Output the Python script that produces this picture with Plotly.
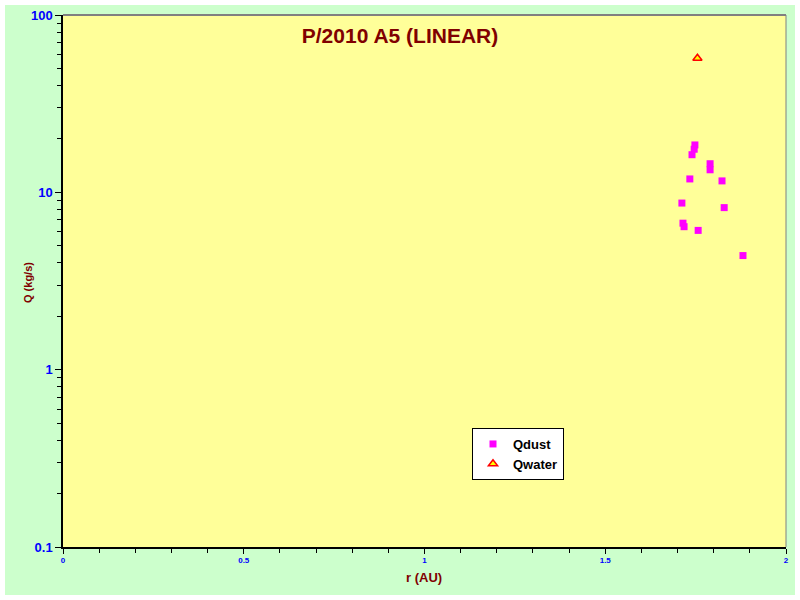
import plotly.graph_objects as go

# Data
dust_r = [1.748, 1.746, 1.740, 1.790, 1.790, 1.734, 1.823, 1.712, 1.829, 1.715, 1.718, 1.757, 1.881]
dust_q = [18.5, 17.5, 16.3, 14.5, 13.4, 11.9, 11.6, 8.7, 8.2, 6.7, 6.4, 6.1, 4.4]
water_r = [1.755]
water_q = [57.0]

title_text = "P/2010 A5 (LINEAR)"
x_title = "r (AU)"
y_title = "Q (kg/s)"

FONT = "Liberation Sans, Arial, sans-serif"
DARKRED = "#800000"
BLUE = "#0000FF"

fig = go.Figure()
fig.add_trace(go.Scatter(
    x=dust_r, y=dust_q, mode="markers", name="Qdust",
    marker=dict(symbol="square", size=7, color="#FF00FF", line=dict(width=0)),
))
fig.add_trace(go.Scatter(
    x=water_r, y=water_q, mode="markers", name="Qwater",
    marker=dict(symbol="triangle-up", size=8, color="#FFFF00",
                line=dict(color="#FF0000", width=1.5)),
))

W, H = 800, 600
l, r, t, b = 63, 14, 15, 53
pw, ph = W - l - r, H - t - b

def px_x(p):
    return (p - l) / pw

def px_y(p):
    return (H - b - p) / ph

fig.add_shape(type="rect", xref="paper", yref="paper",
              x0=px_x(5), x1=px_x(795), y0=px_y(595), y1=px_y(5),
              fillcolor="#CCFFCC", line=dict(width=0), layer="below")
fig.add_shape(type="rect", xref="paper", yref="paper",
              x0=0, x1=1, y0=0, y1=1,
              fillcolor="#FFFF99", line=dict(width=0), layer="below")

fig.update_layout(
    width=W, height=H,
    margin=dict(l=l, r=r, t=t, b=b, autoexpand=False),
    paper_bgcolor="white",
    plot_bgcolor="#FFFF99",
    font=dict(family=FONT),
    title=dict(text=title_text, x=0.5, xref="container", xanchor="center",
               y=1 - 36 / H, yref="container", yanchor="middle",
               font=dict(family=FONT, size=21, color=DARKRED, weight="bold")),
    showlegend=True,
    legend=dict(x=px_x(472), y=px_y(428), xanchor="left", yanchor="top",
                bgcolor="white", bordercolor="black", borderwidth=1,
                font=dict(family=FONT, size=13, color="black", weight="bold"),
                itemwidth=30, tracegroupgap=0),
)

fig.update_xaxes(
    range=[0, 2], dtick=0.5, tick0=0, automargin=False,
    showgrid=False, zeroline=False,
    showline=True, linecolor="black", linewidth=1.5, mirror=False,
    ticks="outside", ticklen=5, tickcolor="black",
    minor=dict(ticks="outside", ticklen=4, dtick=0.1, tickcolor="black"),
    tickfont=dict(family=FONT, size=8, color=BLUE, weight="bold"),
)
fig.update_yaxes(
    type="log", range=[-1, 2], dtick=1, automargin=False,
    showgrid=False, zeroline=False,
    showline=True, linecolor="black", linewidth=1.5,
    ticks="outside", ticklen=6, tickcolor="black",
    minor=dict(ticks="outside", ticklen=4, dtick="D1", tickcolor="black", showgrid=False),
    tickfont=dict(family=FONT, size=13, color=BLUE, weight="bold"),
)

# axis titles
fig.add_annotation(text=x_title, xref="paper", yref="paper",
                   x=px_x(424), y=px_y(577), xanchor="center", yanchor="middle",
                   showarrow=False,
                   font=dict(family=FONT, size=13, color=DARKRED, weight="bold"))
fig.add_annotation(text=y_title, xref="paper", yref="paper",
                   x=px_x(28), y=px_y(283), xanchor="center", yanchor="middle",
                   textangle=-90, showarrow=False,
                   font=dict(family=FONT, size=11, color=DARKRED, weight="bold"))

# gray top/right border of the plot area
fig.add_shape(type="line", xref="paper", yref="paper", x0=0, x1=1, y0=1, y1=1,
              line=dict(color="#808080", width=2))
fig.add_shape(type="line", xref="paper", yref="paper", x0=1, x1=1, y0=0, y1=1,
              line=dict(color="#808080", width=1))

fig.write_html("out.html", config={"displayModeBar": False},
               post_script="document.body.style.margin='0';document.body.style.overflow='hidden';")
